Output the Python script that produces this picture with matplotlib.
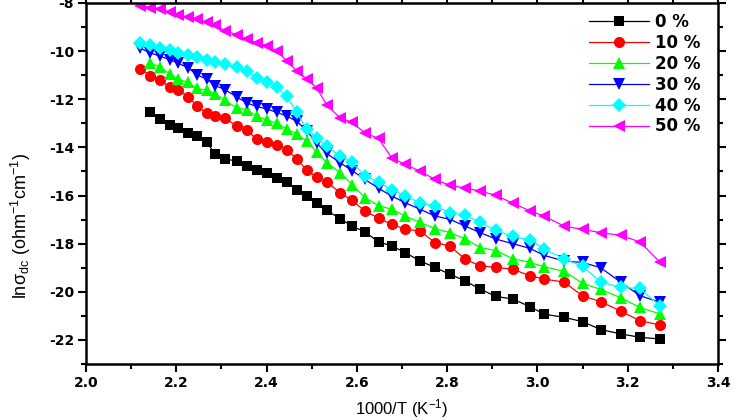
import matplotlib
matplotlib.use("Agg")
import matplotlib.pyplot as plt
from matplotlib.ticker import MultipleLocator, FormatStrFormatter, FuncFormatter

plt.rcParams['font.family'] = ['Liberation Sans', 'DejaVu Sans']
plt.rcParams['mathtext.default'] = 'regular'

x_vals = [2.120, 2.142, 2.164, 2.186, 2.204, 2.227, 2.245, 2.267, 2.286, 2.308,
          2.334, 2.356, 2.378, 2.400, 2.422, 2.445, 2.467, 2.489, 2.511, 2.533,
          2.563, 2.589, 2.618, 2.648, 2.677, 2.707, 2.740, 2.773, 2.806, 2.840,
          2.873, 2.908, 2.945, 2.984, 3.015, 3.059, 3.100, 3.140, 3.185, 3.227,
          3.272]

y_0 = [None, -12.54, -12.82, -13.05, -13.19, -13.40, -13.51, -13.79, -14.26, -14.48,
       -14.57, -14.78, -14.92, -15.08, -15.26, -15.44, -15.78, -16.02, -16.33, -16.62,
       -16.96, -17.27, -17.51, -17.93, -18.09, -18.37, -18.72, -18.99, -19.27, -19.55,
       -19.89, -20.19, -20.30, -20.62, -20.93, -21.06, -21.24, -21.57, -21.75, -21.89,
       -21.96]
y_10 = [-10.73, -11.02, -11.20, -11.51, -11.63, -11.89, -12.27, -12.57, -12.68, -12.78,
        -13.12, -13.26, -13.67, -13.76, -13.89, -14.09, -14.48, -14.95, -15.23, -15.43,
        -15.88, -16.20, -16.65, -16.94, -17.20, -17.40, -17.47, -17.96, -18.09, -18.65,
        -18.92, -18.99, -19.06, -19.34, -19.47, -19.60, -20.17, -20.41, -20.81, -21.20,
        -21.38]
y_20 = [None, -10.49, -10.66, -10.95, -11.17, -11.30, -11.55, -11.62, -11.77, -12.04,
        -12.36, -12.43, -12.71, -12.85, -13.00, -13.23, -13.45, -13.73, -14.20, -14.63,
        -15.05, -15.55, -16.09, -16.42, -16.57, -16.85, -17.12, -17.37, -17.54, -17.80,
        -18.16, -18.29, -18.62, -18.78, -18.96, -19.15, -19.65, -19.90, -20.25, -20.65,
        -20.92]
y_30 = [-9.88, -10.07, -10.21, -10.36, -10.50, -10.70, -10.98, -11.16, -11.43, -11.60,
        -11.91, -12.15, -12.30, -12.40, -12.54, -12.70, -12.92, -13.30, -13.82, -14.25,
        -14.64, -14.96, -15.33, -15.70, -16.02, -16.30, -16.57, -16.85, -16.99, -17.27,
        -17.54, -17.81, -18.00, -18.20, -18.49, -18.72, -18.78, -19.00, -19.61, -20.16,
        -20.44]
y_40 = [-9.65, -9.76, -9.88, -9.97, -10.07, -10.17, -10.24, -10.36, -10.44, -10.52,
        -10.67, -10.84, -11.10, -11.28, -11.51, -11.87, -12.55, -13.25, -13.60, -13.96,
        -14.36, -14.61, -15.19, -15.45, -15.75, -16.02, -16.30, -16.44, -16.71, -16.82,
        -17.12, -17.45, -17.70, -17.85, -18.22, -18.63, -18.94, -19.59, -19.82, -19.86,
        -20.60]
y_50 = [-8.11, -8.19, -8.24, -8.39, -8.50, -8.59, -8.68, -8.80, -8.93, -9.15,
        -9.32, -9.50, -9.65, -9.77, -9.98, -10.41, -10.83, -11.16, -11.53, -12.23,
        -12.78, -12.96, -13.40, -13.63, -14.43, -14.71, -14.99, -15.33, -15.58, -15.68,
        -15.82, -15.99, -16.32, -16.64, -16.86, -17.27, -17.41, -17.54, -17.66, -17.93,
        -18.78]

labels = ["0 %", "10 %", "20 %", "30 %", "40 %", "50 %"]
series = [y_0, y_10, y_20, y_30, y_40, y_50]
colors = ["#000000", "#ff0000", "#00ff00", "#0000ff", "#00ffff", "#ff00ff"]
markers = ["s", "o", "^", "v", "D", "<"]
msizes = [6.5, 8, 8, 8, 7, 8.5]

fig = plt.figure(figsize=(7.38, 4.20), dpi=100)
ax = fig.add_axes([0.1165, 0.1333, 0.973 - 0.1165, 0.9929 - 0.1333])

for ys, lab, c, m, ms in zip(series, labels, colors, markers, msizes):
    xs = [x for x, y in zip(x_vals, ys) if y is not None]
    yy = [y for y in ys if y is not None]
    ax.plot(xs, yy, color=c, marker=m, markersize=ms, linewidth=0.9,
            markeredgewidth=0, label=lab)

ax.set_xlim(2.0, 3.4)
ax.set_ylim(-23, -8)
ax.xaxis.set_major_locator(MultipleLocator(0.2))
ax.xaxis.set_minor_locator(MultipleLocator(0.1))
ax.yaxis.set_major_locator(MultipleLocator(2))
ax.yaxis.set_minor_locator(MultipleLocator(1))
ax.xaxis.set_major_formatter(FormatStrFormatter('%.1f'))
ax.yaxis.set_major_formatter(FuncFormatter(lambda v, p: f"{int(round(v))}"))

for sp in ax.spines.values():
    sp.set_linewidth(1.8)
ax.tick_params(which='both', direction='out', top=True, right=True, width=1.5)
ax.tick_params(which='major', length=5.5, labelsize=10, pad=3)
ax.tick_params(which='minor', length=3.5)
for lab in ax.get_xticklabels() + ax.get_yticklabels():
    lab.set_fontweight('bold')
    lab.set_fontfamily('DejaVu Sans')

ax.set_xlabel(r"1000/T (K$^{-1}$)", fontsize=12, labelpad=5)
ax.set_ylabel(r"ln$\sigma_{dc}$ (ohm$^{-1}$cm$^{-1}$)", fontsize=13)
ax.yaxis.set_label_coords(-0.084, 0.382)

leg = ax.legend(loc='upper left', bbox_to_anchor=(0.785, 0.99), frameon=False,
                prop={'weight': 'bold', 'size': 12, 'family': 'DejaVu Sans'},
                handlelength=3.6, handletextpad=0.35, labelspacing=0.17,
                borderaxespad=0.0, borderpad=0.4)

fig.savefig("out.png", dpi=100)
